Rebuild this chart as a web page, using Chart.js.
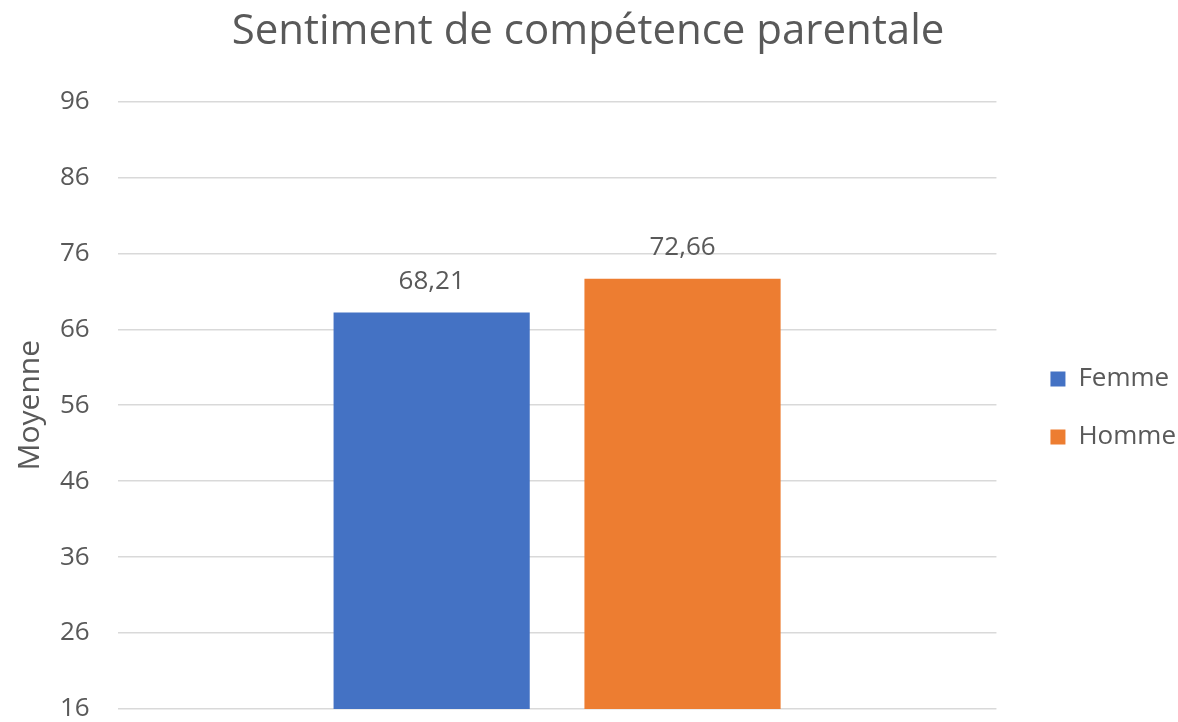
<!DOCTYPE html>
<html>
<head>
<meta charset="utf-8">
<script src="https://cdn.jsdelivr.net/npm/chart.js@4/dist/chart.umd.min.js"></script>
<style>
	html, body { margin: 0; padding: 0; background: #fff; }
	#wrap { width: 1178px; height: 722px; }
</style>
</head>
<body>
<div id="wrap"><canvas id="chart"></canvas></div>
<script>
// Data
const categories = [''];
const seriesNames = ['Femme', 'Homme'];
const seriesValues = [[68.21], [72.66]];
const seriesColors = ['#4472C4', '#ED7D31'];
const yTicks = [16, 26, 36, 46, 56, 66, 76, 86, 96];

const textColor = '#595959';
const fontFamily = '"Open Sans", "DejaVu Sans", sans-serif';

// Draw the value above each bar, with a comma as decimal mark
const valueLabels = {
	id: 'valueLabels',
	afterDatasetsDraw(chart) {
		let ctx = chart.ctx;
		ctx.save();
		ctx.font = '26px ' + fontFamily;
		ctx.fillStyle = textColor;
		ctx.textAlign = 'center';
		ctx.textBaseline = 'middle';
		chart.data.datasets.forEach((ds, i) => {
			chart.getDatasetMeta(i).data.forEach((bar, j) => {
				let txt = ds.data[j].toFixed(2).replace('.', ',');
				ctx.fillText(txt, bar.x, bar.y - 31);
			});
		});
		ctx.restore();
	}
};

// HACK: push the legend a bit away from the plot and down, like the original
const legendShift = {
	id: 'legendShift',
	afterLayout(chart) {
		let lg = chart.legend;
		lg.left += 22;
		lg.right += 22;
		lg.top += 47;
		lg.bottom += 47;
	}
};

let chartCtx = document.getElementById('chart');
let chart = new Chart(chartCtx, {
	type: 'bar',
	data: {
		labels: categories,
		datasets: seriesNames.map((name, i) => ({
			label: name,
			data: seriesValues[i],
			backgroundColor: seriesColors[i],
			borderWidth: 0,
			categoryPercentage: 0.571,
			barPercentage: 0.782,
		})),
	},
	plugins: [valueLabels, legendShift],
	options: {
		responsive: true,
		maintainAspectRatio: false,
		animation: false,
		layout: { padding: { left: 12, right: 14, top: 0, bottom: 0 } },
		plugins: {
			title: {
				display: true,
				text: 'Sentiment de compétence parentale',
				color: textColor,
				font: { family: fontFamily, size: 42, weight: 'normal' },
				padding: { top: 7, bottom: 44 },
			},
			legend: {
				position: 'right',
				labels: {
					color: textColor,
					font: { family: fontFamily, size: 26 },
					boxWidth: 15,
					boxHeight: 15,
					padding: 32,
				},
			},
			tooltip: { enabled: false },
		},
		scales: {
			x: {
				display: false,
			},
			y: {
				min: yTicks[0],
				max: yTicks[yTicks.length - 1],
				afterBuildTicks: axis => { axis.ticks = yTicks.map(v => ({ value: v })); },
				grid: {
					color: '#d9d9d9',
					lineWidth: 1.5,
					drawTicks: true,
					tickLength: 28,
					tickColor: 'rgba(0,0,0,0)',
				},
				border: { display: false },
				ticks: {
					color: textColor,
					font: { family: fontFamily, size: 26, lineHeight: 1 },
					padding: 0,
				},
				title: {
					display: true,
					text: 'Moyenne',
					color: textColor,
					font: { family: fontFamily, size: 30 },
					padding: { top: 0, bottom: 12 },
				},
			},
		},
	},
});
</script>
</body>
</html>
